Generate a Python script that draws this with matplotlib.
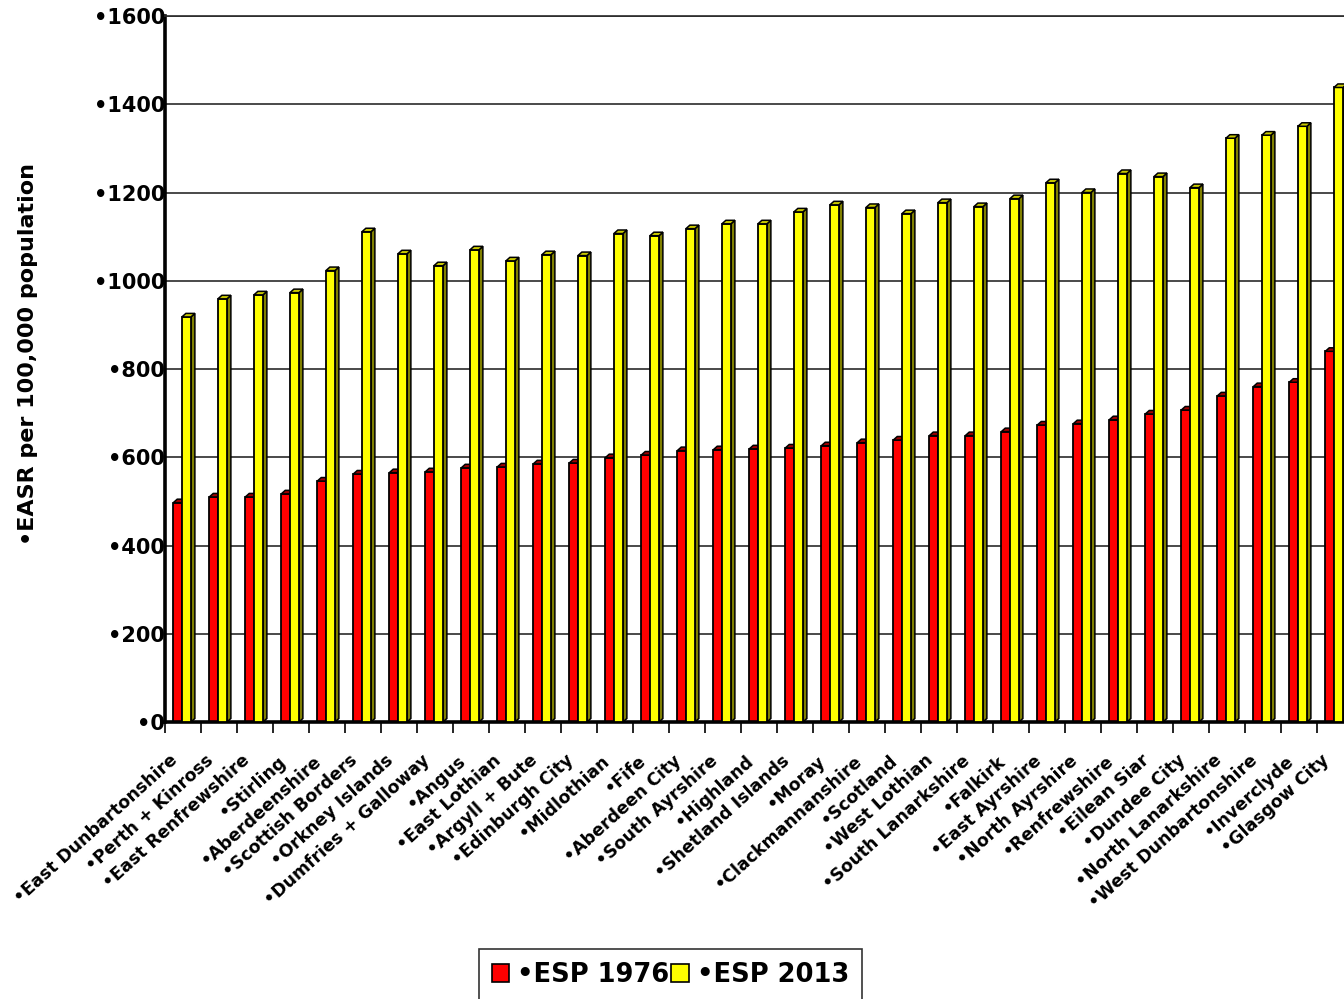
import matplotlib.pyplot as plt
from matplotlib.patches import Polygon, Patch
from matplotlib.ticker import FixedLocator, NullFormatter
from matplotlib.transforms import ScaledTranslation

areas = [
    "East Dunbartonshire", "Perth + Kinross", "East Renfrewshire", "Stirling",
    "Aberdeenshire", "Scottish Borders", "Orkney Islands", "Dumfries + Galloway",
    "Angus", "East Lothian", "Argyll + Bute", "Edinburgh City", "Midlothian",
    "Fife", "Aberdeen City", "South Ayrshire", "Highland", "Shetland Islands",
    "Moray", "Clackmannanshire", "Scotland", "West Lothian", "South Lanarkshire",
    "Falkirk", "East Ayrshire", "North Ayrshire", "Renfrewshire", "Eilean Siar",
    "Dundee City", "North Lanarkshire", "West Dunbartonshire", "Inverclyde",
    "Glasgow City",
]
esp_1976 = [
    497, 510, 510, 517, 546, 562, 565, 567, 576, 578, 585, 587, 599, 605, 615,
    617, 619, 621, 626, 633, 639, 649, 649, 658, 673, 676, 685, 698, 707, 739,
    760, 770, 840,
]
esp_2013 = [
    918, 959, 968, 973, 1023, 1111, 1061, 1034, 1070, 1045, 1059, 1057, 1107,
    1102, 1118, 1129, 1129, 1156, 1172, 1166, 1152, 1177, 1168, 1186, 1222,
    1200, 1243, 1236, 1211, 1323, 1330, 1350, 1438,
]
y_ticks = [0, 200, 400, 600, 800, 1000, 1200, 1400, 1600]

plt.rcParams["font.family"] = ["DejaVu Sans"]
plt.rcParams["font.weight"] = "bold"
plt.rcParams["axes.labelweight"] = "bold"

fig = plt.figure(figsize=(13.44, 9.99), dpi=100)
ax = fig.add_axes([165 / 1344, 277 / 999, 1188 / 1344, 706 / 999])

n = len(areas)
x_idx = list(range(n))
bw_red, bw_yel = 0.24, 0.25
off_red = 0.23
off_yel = off_red + bw_red
# depth of the pseudo-3D faces, in data units
dx, dy = 0.11, 8.0


def draw_box(xs, heights, width, face, side, top, z):
    bars = ax.bar(xs, heights, width=width, align="edge", color=face,
                  edgecolor="black", linewidth=1.3, zorder=z + 0.1)
    for rect in bars:
        x0 = rect.get_x()
        x1 = x0 + rect.get_width()
        h = rect.get_height()
        ax.add_patch(Polygon([(x1, 0), (x1 + dx, dy), (x1 + dx, h + dy), (x1, h)],
                             closed=True, facecolor=side, edgecolor="black",
                             linewidth=1.1, zorder=z))
        ax.add_patch(Polygon([(x0, h), (x0 + dx, h + dy), (x1 + dx, h + dy), (x1, h)],
                             closed=True, facecolor=top, edgecolor="black",
                             linewidth=1.1, zorder=z + 0.2))
    return bars


b1 = draw_box([i + off_red for i in x_idx], esp_1976, bw_red,
              "#ff0000", "#800000", "#a00000", 2)
b2 = draw_box([i + off_yel for i in x_idx], esp_2013, bw_yel,
              "#ffff00", "#808000", "#c8c800", 3)

ax.set_xlim(0, n)
ax.set_ylim(0, 1600)

ax.set_yticks(y_ticks, [f"•{v}" for v in y_ticks], fontsize=15)
ax.tick_params(axis="y", length=0, pad=0)
ax.yaxis.grid(True, color="#2a2a2a", linewidth=1.2)
ax.set_axisbelow(True)

ax.xaxis.set_major_locator(FixedLocator(range(n + 1)))
ax.xaxis.set_major_formatter(NullFormatter())
ax.tick_params(axis="x", which="major", length=8, width=1.2, direction="out")
ax.set_xticks([i + 0.5 for i in x_idx], minor=True)
ax.set_xticklabels([f"•{a}" for a in areas], minor=True, rotation=42,
                   ha="right", va="top", rotation_mode="anchor", fontsize=12.5)
ax.tick_params(axis="x", which="minor", length=0, pad=14)
shift = ScaledTranslation(-0.14, -0.1, fig.dpi_scale_trans)
for lbl in ax.get_xticklabels(minor=True):
    lbl.set_transform(lbl.get_transform() + shift)

for side in ["left", "bottom"]:
    ax.spines[side].set_linewidth(2.6)
ax.spines["top"].set_linewidth(1.2)
ax.spines["top"].set_color("#2a2a2a")
ax.spines["right"].set_visible(False)

ax.set_ylabel("•EASR per 100,000 population", fontsize=16, va="center")
ax.yaxis.set_label_coords(-0.1153, 0.521)

handles = [Patch(facecolor="#ff0000", edgecolor="black", linewidth=1.2),
           Patch(facecolor="#ffff00", edgecolor="black", linewidth=1.2)]
leg = fig.legend(handles, ["•ESP 1976", "•ESP 2013"], ncol=2, fontsize=18.5,
                 loc="upper left", bbox_to_anchor=(479 / 1344, 1 - 949 / 999),
                 handlelength=0.68, handleheight=0.68, handletextpad=0.3,
                 columnspacing=0.08, borderpad=0.5, borderaxespad=0,
                 fancybox=False, frameon=True)
leg.get_frame().set_edgecolor("black")
leg.get_frame().set_linewidth(1.2)

fig.savefig("out.png", dpi=100)
